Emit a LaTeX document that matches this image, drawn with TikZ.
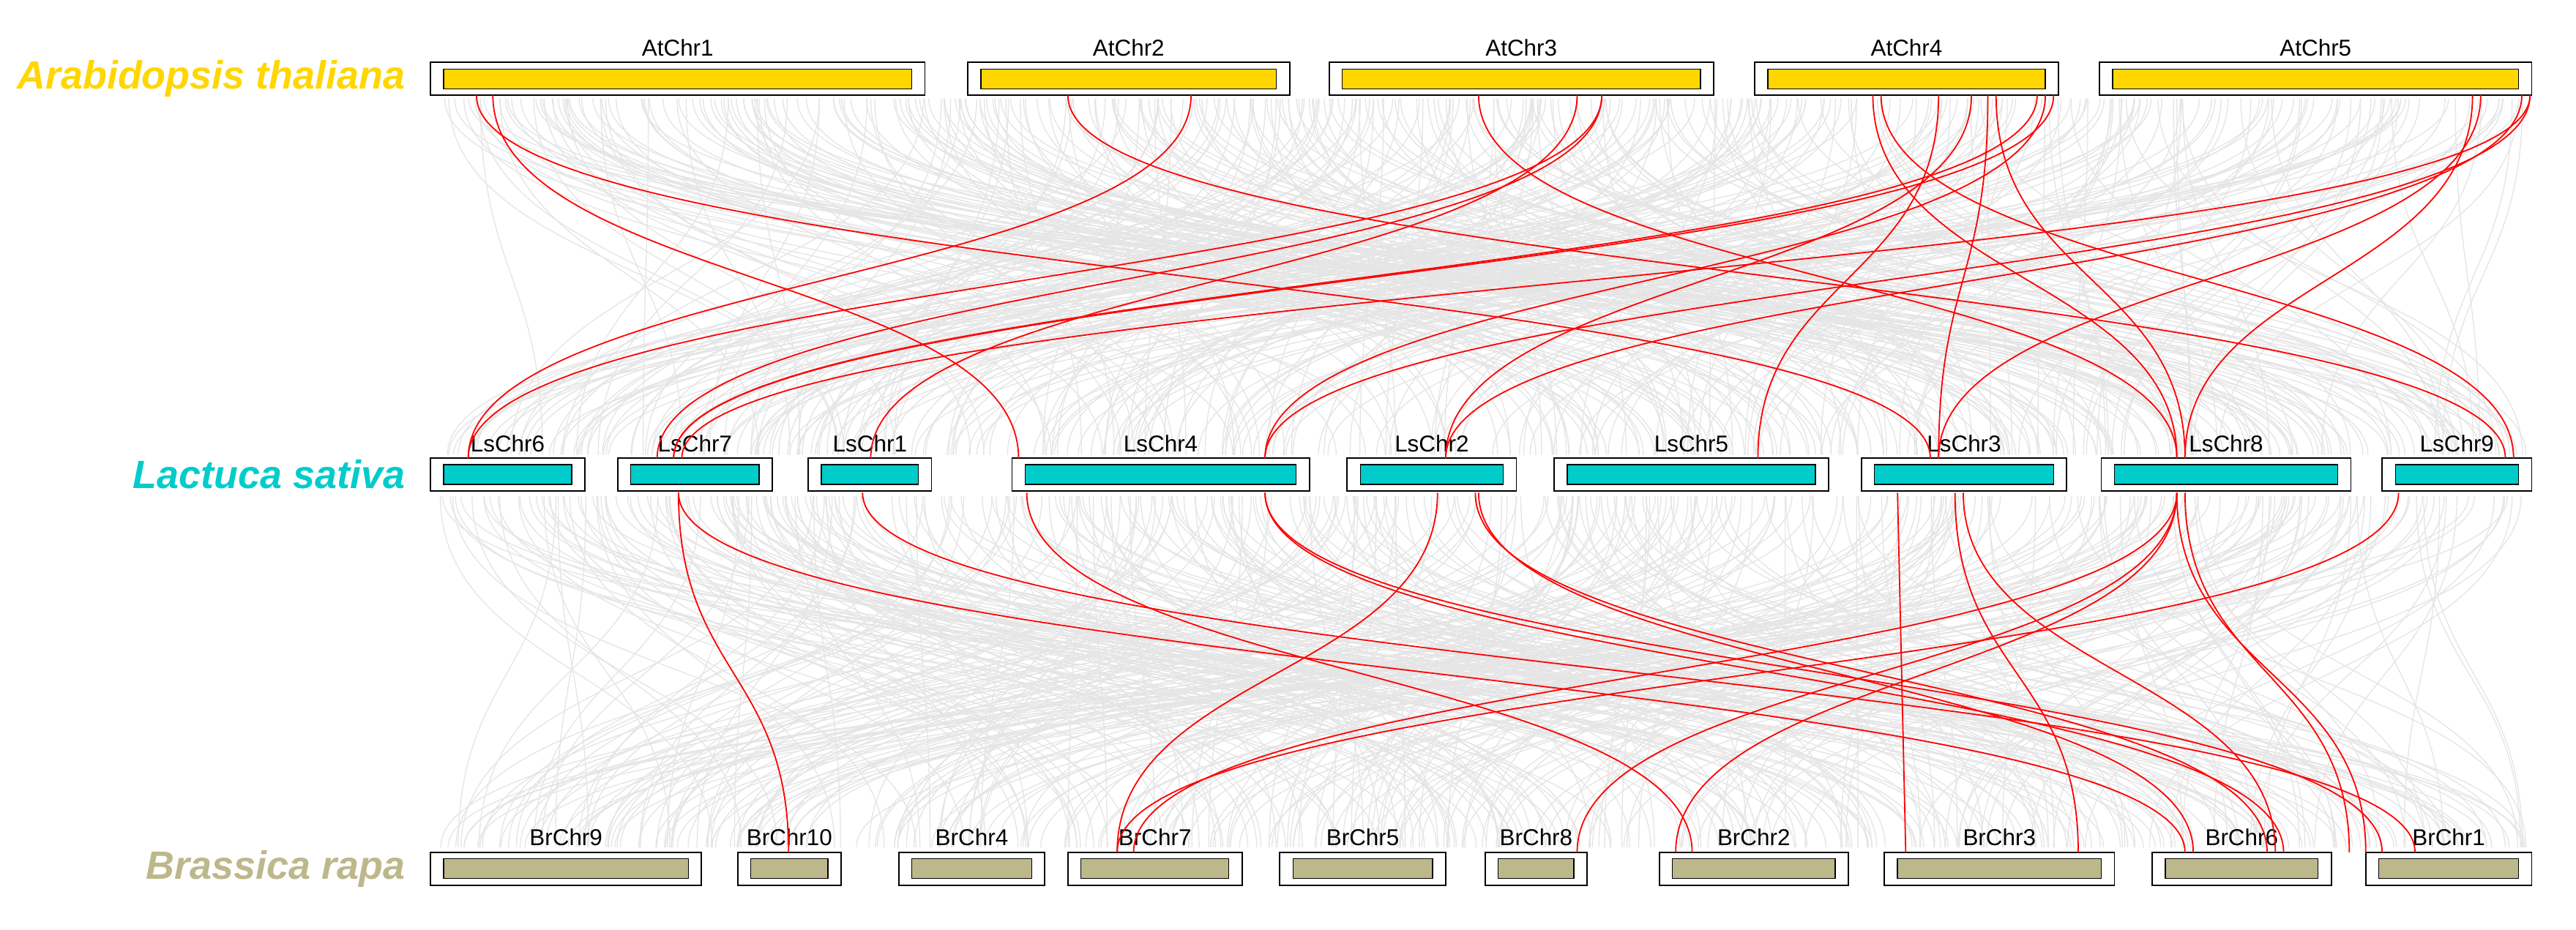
\documentclass[tikz,border=0pt]{standalone}
\usepackage{fontspec}
\setmainfont{Liberation Sans}
\begin{document}
\begin{tikzpicture}[x=1pt,y=-1pt,
  outer/.style={draw=black,fill=white,line width=0.8pt,inner sep=0,minimum height=20pt},
  chrlab/.style={font=\fontsize{14}{14}\selectfont,anchor=south},
  sp/.style={font=\fontsize{24}{24}\selectfont\bfseries\itshape,anchor=east},
  red link/.style={draw=red,line width=0.8pt},
  gray link/.style={draw=black!10,line width=0.6pt}]
\useasboundingbox (0,0) rectangle (1568,566);
\definecolor{atc}{RGB}{255,214,0}
\definecolor{lsc}{RGB}{0,204,204}
\definecolor{brc}{RGB}{189,183,140}
% gray background links
\pgfmathsetseed{7}
\foreach \i in {1,...,450}{
  \pgfmathsetmacro\a{268+rnd*1270}
  \pgfmathsetmacro\b{268+rnd*1270}
  \draw[gray link] (\a,60) .. controls (\a,168) and (\b,168) .. (\b,277);
  \pgfmathsetmacro\c{268+rnd*1270}
  \pgfmathsetmacro\d{268+rnd*1270}
  \draw[gray link] (\c,302) .. controls (\c,410) and (\d,410) .. (\d,516);
}
% chromosomes
\foreach \n/\l/\r/\y/\c in {AtChr1/262/563/48/atc,AtChr2/589/785/48/atc,AtChr3/809/1043/48/atc,AtChr4/1068/1253/48/atc,AtChr5/1278/1541/48/atc,
 LsChr6/262/356/289/lsc,LsChr7/376/470/289/lsc,LsChr1/492/567/289/lsc,LsChr4/616/797/289/lsc,LsChr2/820/923/289/lsc,LsChr5/946/1113/289/lsc,LsChr3/1133/1258/289/lsc,LsChr8/1279/1431/289/lsc,LsChr9/1450/1541/289/lsc,
 BrChr9/262/427/529/brc,BrChr10/449/512/529/brc,BrChr4/547/636/529/brc,BrChr7/650/756/529/brc,BrChr5/779/880/529/brc,BrChr8/904/966/529/brc,BrChr2/1010/1125/529/brc,BrChr3/1147/1287/529/brc,BrChr6/1310/1419/529/brc,BrChr1/1440/1541/529/brc}{
  \pgfmathsetmacro\w{\r-\l}
  \pgfmathsetmacro\wi{\w-16}
  \node[outer,minimum width=\w pt] (\n) at ({(\l+\r)/2},\y) {};
  \node[draw=black,fill=\c,line width=0.6pt,inner sep=0,minimum height=12pt,minimum width=\wi pt] (\n-in) at (\n) {};
  \node[chrlab] at (\n.north) {\n};
}
\node[sp,text=atc] (at) at (250,48) {Arabidopsis thaliana};
\node[sp,text=lsc] (ls) at (250,289) {Lactuca sativa};
\node[sp,text=brc] (br) at (250,529) {Brassica rapa};
% red links At-Ls
\foreach \a/\b in {300/620,290/1175,725/285,650/1525,900/1325,975/285,975/400,960/530,1140/1325,1145/1530,1180/1070,1200/880,1210/1180,1215/1330,1240/410,1245/770,1250/410,1505/1330,1510/1180,1535/880,1540/415,1540/770}{
  \draw[red link] (\a,58) .. controls (\a,170) and (\b,170) .. (\b,279);
}
% red links Ls-Br
\foreach \a/\b in {413/480,413/1330,525/1470,625/1030,770/1390,770/1450,875/680,898/1380,900/1335,1190/1265,1195/1385,1325/690,1325/960,1325/1020,1325/1440,1330/1430,1460/680}{
  \draw[red link] (\a,300) .. controls (\a,410) and (\b,410) .. (\b,519);
}
\draw[red link] (1155,300) -- (1160,519);
\end{tikzpicture}
\end{document}
